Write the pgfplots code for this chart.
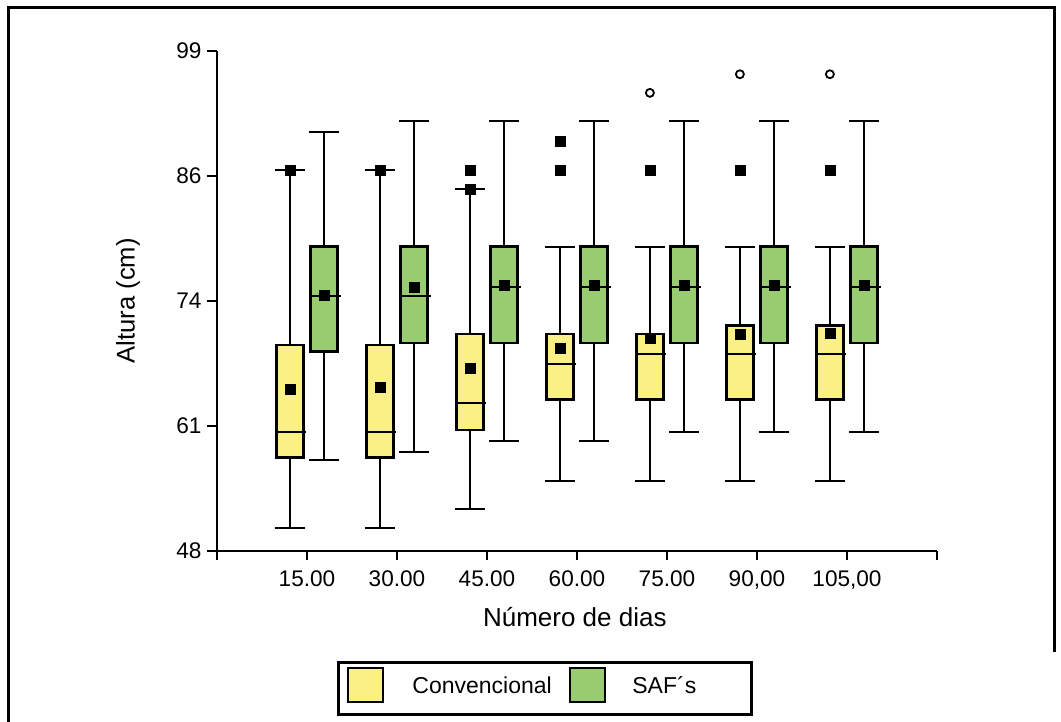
\documentclass[border=0pt]{standalone}
\usepackage{pgfplots}
\pgfplotsset{compat=1.18}
\usepgfplotslibrary{statistics}
\usepackage{fontspec}
\setmainfont{Liberation Sans}
\definecolor{yel}{RGB}{250,240,133}
\definecolor{grn}{RGB}{153,204,112}
\pgfplotsset{
  convst/.style={solid, fill=yel, draw=black, line width=1.3pt, mark=none},
  safst/.style={solid, fill=grn, draw=black, line width=1.3pt, mark=none},
}
\begin{document}
\fontsize{11.3}{13}\selectfont
\begin{tikzpicture}
\useasboundingbox (0,0) rectangle (530.5pt,-361pt);
\draw[line width=1.5pt] (4pt,-362pt) -- (4pt,-4pt) -- (527pt,-4pt) -- (527pt,-326pt);
\begin{axis}[
  at={(108.5pt,-275.35pt)}, anchor=south west,
  scale only axis, width=360pt, height=250pt,
  xmin=0, xmax=8, ymin=48, ymax=99,
  clip=false,
  axis lines*=left, axis line style={line width=1pt},
  xtick={0,...,8},
  xticklabels={,15.00,30.00,45.00,60.00,75.00,{90,00},{105,00},},
  ytick={48,60.75,73.5,86.25,99}, yticklabels={48,61,74,86,99},
  tick align=outside, major tick length=4.8pt,
  tick style={line width=1pt, black},
  xticklabel style={font=\fontsize{11.3}{13}\selectfont, yshift=-1pt},
  yticklabel style={font=\fontsize{11.3}{13}\selectfont, xshift=1pt},
  xlabel={Número de dias}, ylabel={Altura (cm)},
  xlabel style={font=\fontsize{13}{15}\selectfont, at={(axis description cs:0.497,-0.1326)}, anchor=center},
  ylabel style={font=\fontsize{12.8}{15}\selectfont, at={(axis description cs:-0.1236,0.5)}, anchor=center},
  boxplot/draw direction=y,
  boxplot/box extend=0.3,
  boxplot/whisker extend=0.34,
  boxplot/every whisker/.style={line width=1pt},
  boxplot/every median/.style={line width=1pt},
  boxplot/draw/median/.code={%
    \draw[/pgfplots/boxplot/every median/.try]
      (boxplot box cs:\pgfplotsboxplotvalue{median},-0.03) --
      (boxplot box cs:\pgfplotsboxplotvalue{median},1.11);},
]
% Convencional
\addplot+[convst, boxplot prepared={draw position=0.81, lower whisker=50.3, lower quartile=57.5, median=60.1, upper quartile=69.0, upper whisker=86.8}] coordinates {};
\addplot+[convst, boxplot prepared={draw position=1.81, lower whisker=50.3, lower quartile=57.5, median=60.1, upper quartile=69.0, upper whisker=86.8}] coordinates {};
\addplot+[convst, boxplot prepared={draw position=2.81, lower whisker=52.3, lower quartile=60.3, median=63.1, upper quartile=70.1, upper whisker=84.9}] coordinates {};
\addplot+[convst, boxplot prepared={draw position=3.81, lower whisker=55.1, lower quartile=63.4, median=67.0, upper quartile=70.1, upper whisker=79.0}] coordinates {};
\addplot+[convst, boxplot prepared={draw position=4.81, lower whisker=55.1, lower quartile=63.4, median=68.1, upper quartile=70.1, upper whisker=79.0}] coordinates {};
\addplot+[convst, boxplot prepared={draw position=5.81, lower whisker=55.1, lower quartile=63.4, median=68.1, upper quartile=71.0, upper whisker=79.0}] coordinates {};
\addplot+[convst, boxplot prepared={draw position=6.81, lower whisker=55.1, lower quartile=63.4, median=68.1, upper quartile=71.0, upper whisker=79.0}] coordinates {};
% SAF's
\addplot+[safst, boxplot prepared={draw position=1.19, lower whisker=57.25, lower quartile=68.3, median=74.0, upper quartile=79.0, upper whisker=90.7}] coordinates {};
\addplot+[safst, boxplot prepared={draw position=2.19, lower whisker=58.1, lower quartile=69.2, median=74.0, upper quartile=79.0, upper whisker=91.8}] coordinates {};
\addplot+[safst, boxplot prepared={draw position=3.19, lower whisker=59.2, lower quartile=69.2, median=74.9, upper quartile=79.0, upper whisker=91.8}] coordinates {};
\addplot+[safst, boxplot prepared={draw position=4.19, lower whisker=59.2, lower quartile=69.2, median=74.9, upper quartile=79.0, upper whisker=91.8}] coordinates {};
\addplot+[safst, boxplot prepared={draw position=5.19, lower whisker=60.1, lower quartile=69.2, median=74.9, upper quartile=79.0, upper whisker=91.8}] coordinates {};
\addplot+[safst, boxplot prepared={draw position=6.19, lower whisker=60.1, lower quartile=69.2, median=74.9, upper quartile=79.0, upper whisker=91.8}] coordinates {};
\addplot+[safst, boxplot prepared={draw position=7.19, lower whisker=60.1, lower quartile=69.2, median=74.9, upper quartile=79.0, upper whisker=91.8}] coordinates {};
% means
\addplot[only marks, mark=square*, mark size=2.5pt, black] coordinates {
 (0.81,64.5) (1.81,64.7) (2.81,66.6) (3.81,68.6) (4.81,69.7) (5.81,70.1) (6.81,70.2)
 (1.19,74.0) (2.19,74.9) (3.19,75.1) (4.19,75.1) (5.19,75.1) (6.19,75.1) (7.19,75.1)};
% extreme values
\addplot[only marks, mark=square*, mark size=2.5pt, black] coordinates {
 (0.81,86.8) (1.81,86.8) (2.81,84.9) (2.81,86.8) (3.81,86.8) (3.81,89.8)
 (4.81,86.8) (5.81,86.8) (6.81,86.8)};
% outliers
\addplot[only marks, mark=o, mark size=2pt, line width=0.9pt, black, fill=white] coordinates {
 (4.81,94.7) (5.81,96.6) (6.81,96.6)};
\end{axis}
% legend
\draw[line width=1.5pt] (169pt,-331.35pt) rectangle (375.5pt,-357pt);
\draw[line width=0.9pt, fill=yel] (174pt,-334pt) rectangle (191.5pt,-351pt);
\node[anchor=west, inner sep=0pt, font=\fontsize{11.5}{13}\selectfont] at (206pt,-342.5pt) {Convencional};
\draw[line width=0.9pt, fill=grn] (285pt,-334pt) rectangle (302.5pt,-351pt);
\node[anchor=west, inner sep=0pt, font=\fontsize{11.5}{13}\selectfont] at (316pt,-342.5pt) {SAF´s};
\end{tikzpicture}
\end{document}
